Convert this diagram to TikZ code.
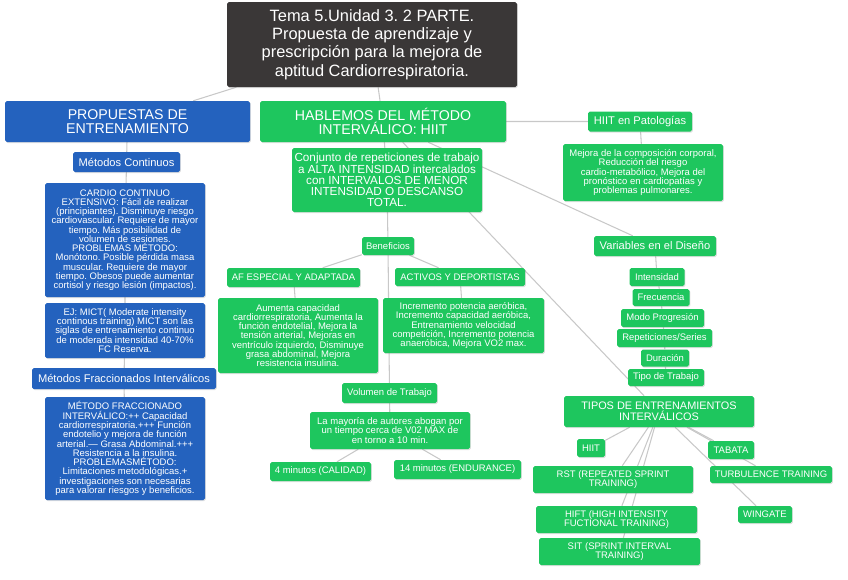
\documentclass[tikz,border=0pt]{standalone}
\usepackage{fontspec}
\setmainfont{Liberation Sans}
\frenchspacing
\definecolor{cmDark}{HTML}{3A3737}
\definecolor{cmBlue}{HTML}{2462BE}
\definecolor{cmGreen}{HTML}{1EC65E}
\definecolor{cmLine}{HTML}{C8C8C8}
\usetikzlibrary{shadows,backgrounds}

\tikzset{
  card/.style={rounded corners=1.5pt, text=white, align=center, inner sep=1pt,
    drop shadow={shadow xshift=0.8pt, shadow yshift=-0.9pt, opacity=0.25}},
  greencard/.style={card, fill=cmGreen},
  bluecard/.style={card, fill=cmBlue},
  darkcard/.style={card, fill=cmDark},
  boxw/.style={minimum width=#1*0.03cm},
  boxh/.style={minimum height=#1*0.03cm},
  txtbody/.style={font=\fontsize{8.1}{7.9}\selectfont},
  txtlabel/.style={font=\fontsize{8.1}{8.1}\selectfont},
  txtmid/.style={font=\fontsize{9.5}{9.5}\selectfont},
  txthead/.style={font=\fontsize{12.1}{11.8}\selectfont},
  link/.style={cmLine, line width=0.9pt}
}

\begin{document}
\begin{tikzpicture}[x=0.03cm, y=-0.03cm]
  \useasboundingbox (0,0) rectangle (848,579);

  % title and the two main branches
  \node[darkcard, boxw=290, boxh=85, font=\fontsize{14}{15.6}\selectfont] (title) at (372,44.5)
    {Tema 5.Unidad 3. 2 PARTE.\\Propuesta de aprendizaje y\\prescripción para la mejora de\\aptitud Cardiorrespiratoria.};
  \node[bluecard, boxw=245, boxh=41, txthead] (prop) at (127.5,121.5) {PROPUESTAS DE\\ENTRENAMIENTO};
  \node[greencard, boxw=246, boxh=41, txthead] (hiit) at (383,121.5) {HABLEMOS DEL MÉTODO\\INTERVÁLICO: HIIT};

  % left column: propuestas
  \node[bluecard, boxw=107, boxh=20, txtmid] (contin) at (126.5,162) {Métodos Continuos};
  \node[bluecard, boxw=160, boxh=114, txtbody] (cardio) at (125,240)
    {CARDIO CONTINUO\\EXTENSIVO: Fácil de realizar\\(principiantes). Disminuye riesgo\\cardiovascular. Requiere de mayor\\tiempo. Más posibilidad de\\volumen de sesiones.\\PROBLEMAS MÉTODO:\\Monótono. Posible pérdida masa\\muscular. Requiere de mayor\\tiempo. Obesos puede aumentar\\cortisol y riesgo lesión (impactos).};
  \node[bluecard, boxw=160, boxh=55, txtbody] (mict) at (125,330.5)
    {EJ: MICT( Moderate intensity\\continous training) MICT son las\\siglas de entrenamiento continuo\\de moderada intensidad 40-70\%\\FC Reserva.};
  \node[bluecard, boxw=184, boxh=21, txtmid] (fracc) at (124,378.5) {Métodos Fraccionados Interválicos};
  \node[bluecard, boxw=160, boxh=103, txtbody] (fraccbox) at (125,448.5)
    {MÉTODO FRACCIONADO\\INTERVÁLICO:++ Capacidad\\cardiorrespiratoria.+++ Función\\endotelio y mejora de función\\arterial.--- Grasa Abdominal.+++\\Resistencia a la insulina.\\PROBLEMASMÉTODO:\\Limitaciones metodológicas.+\\investigaciones son necesarias\\para valorar riesgos y beneficios.};

  % middle column: HIIT
  \node[greencard, boxw=190, boxh=64, font=\fontsize{10}{9.5}\selectfont] (conjunto) at (387,180)
    {Conjunto de repeticiones de trabajo\\a ALTA INTENSIDAD intercalados\\con INTERVALOS DE MENOR\\INTENSIDAD O DESCANSO\\TOTAL.};
  \node[greencard, boxw=52, boxh=18, txtlabel] (benef) at (388,246) {Beneficios};
  \node[greencard, boxw=133, boxh=19, txtlabel] (afesp) at (293.5,277.5) {AF ESPECIAL Y ADAPTADA};
  \node[greencard, boxw=130, boxh=18, txtlabel] (activos) at (460,277) {ACTIVOS Y DEPORTISTAS};
  \node[greencard, boxw=160, boxh=75, txtbody] (aumenta) at (298,335.5)
    {Aumenta capacidad\\cardiorrespiratoria, Aumenta la\\función endotelial, Mejora la\\tensión arterial, Mejoras en\\ventrículo izquierdo, Disminuye\\grasa abdominal, Mejora\\resistencia insulina.};
  \node[greencard, boxw=161, boxh=55, txtbody] (increm) at (463.5,325.5)
    {Incremento potencia aeróbica,\\Incremento capacidad aeróbica,\\Entrenamiento velocidad\\competición, Incremento potencia\\anaeróbica, Mejora VO2 max.};
  \node[greencard, boxw=95, boxh=20, txtlabel] (volumen) at (389.5,393) {Volumen de Trabajo};
  \node[greencard, boxw=160, boxh=37, txtbody] (mayoria) at (390,430.5)
    {La mayoría de autores abogan por\\un tiempo cerca de V02 MAX de\\en torno a 10 min.};
  \node[greencard, boxw=101, boxh=19, txtlabel] (cuatro) at (320.5,471.5) {4 minutos (CALIDAD)};
  \node[greencard, boxw=127, boxh=19, txtlabel] (catorce) at (457.5,469.5) {14 minutos (ENDURANCE)};

  % right column
  \node[greencard, boxw=104, boxh=20, txtmid] (pato) at (640,121.5) {HIIT en Patologías};
  \node[greencard, boxw=160, boxh=57, txtbody] (mejora) at (643,172.5)
    {Mejora de la composición corporal,\\Reducción del riesgo\\cardio-metabólico, Mejora del\\pronóstico en cardiopatías y\\problemas pulmonares.};
  \node[greencard, boxw=122, boxh=20, txtmid] (variables) at (655,246) {Variables en el Diseño};
  \node[greencard, boxw=55, boxh=18, txtlabel] (intens) at (657,277) {Intensidad};
  \node[greencard, boxw=57, boxh=17, txtlabel] (frec) at (661,297.5) {Frecuencia};
  \node[greencard, boxw=83, boxh=18, txtlabel] (modo) at (662.5,318) {Modo Progresión};
  \node[greencard, boxw=95, boxh=18, txtlabel] (repet) at (664.5,338) {Repeticiones/Series};
  \node[greencard, boxw=48, boxh=17, txtlabel] (durac) at (665,358) {Duración};
  \node[greencard, boxw=76, boxh=17, txtlabel] (tipotrab) at (666,377.5) {Tipo de Trabajo};
  \node[greencard, boxw=190, boxh=31, font=\fontsize{9.3}{9.4}\selectfont] (tipos) at (659,411.5)
    {TIPOS DE ENTRENAMIENTOS\\INTERVÁLICOS};
  \node[greencard, boxw=28, boxh=18, txtlabel] (thiit) at (591,448) {HIIT};
  \node[greencard, boxw=46, boxh=18, txtlabel] (tabata) at (731,450) {TABATA};
  \node[greencard, boxw=160, boxh=27, txtlabel] (rst) at (613,479.5) {RST (REPEATED SPRINT\\TRAINING)};
  \node[greencard, boxw=122, boxh=17, txtlabel] (turb) at (771,474.5) {TURBULENCE TRAINING};
  \node[greencard, boxw=161, boxh=27, txtlabel] (hift) at (616.5,519.5) {HIFT (HIGH INTENSITY\\FUCTIONAL TRAINING)};
  \node[greencard, boxw=54, boxh=17, txtlabel] (wingate) at (765,514.5) {WINGATE};
  \node[greencard, boxw=161, boxh=27, txtlabel] (sit) at (619.5,551.5) {SIT (SPRINT INTERVAL\\TRAINING)};

  % connectors behind the cards
  \begin{pgfonlayer}{background}
    \draw[link] (title) -- (prop);
    \draw[link] (title) -- (hiit);
    \draw[link] (prop) -- (contin) -- (cardio) -- (mict) -- (fracc) -- (fraccbox);
    \draw[link] (hiit) -- (conjunto);
    \draw[link] (hiit) -- (pato) -- (mejora);
    \draw[link] (hiit) -- (variables);
    \draw[link] (hiit) -- (tipos);
    \draw[link] (conjunto) -- (benef) -- (volumen) -- (mayoria);
    \draw[link] (benef) -- (afesp) -- (aumenta);
    \draw[link] (benef) -- (activos) -- (increm);
    \draw[link] (mayoria) -- (cuatro);
    \draw[link] (mayoria) -- (catorce);
    \draw[link] (variables) -- (intens) -- (frec) -- (modo) -- (repet) -- (durac) -- (tipotrab);
    \foreach \kind in {thiit,rst,hift,sit,tabata,turb,wingate}
      \draw[link] (tipos) -- (\kind);
  \end{pgfonlayer}
\end{tikzpicture}
\end{document}
